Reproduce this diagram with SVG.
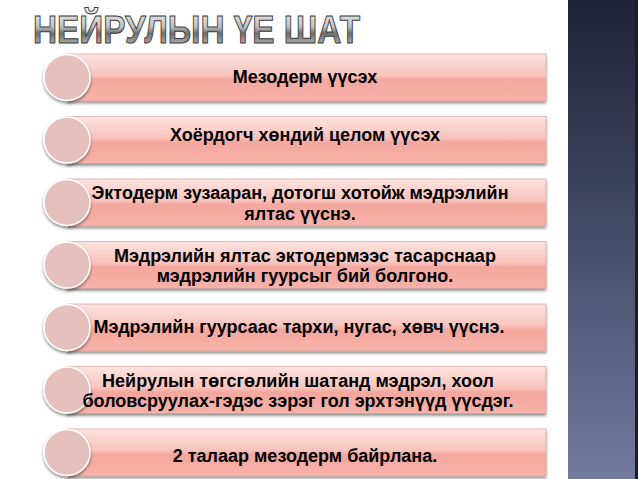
<svg xmlns="http://www.w3.org/2000/svg" width="638" height="479" viewBox="0 0 638 479">
<defs>
<linearGradient id="bar" x1="0" y1="0" x2="0" y2="1">
<stop offset="0" stop-color="#fde3df"/>
<stop offset="0.45" stop-color="#f9c4bd"/>
<stop offset="0.55" stop-color="#f4a79e"/>
<stop offset="1" stop-color="#f7b2aa"/>
</linearGradient>
<linearGradient id="panel" x1="0" y1="0" x2="0" y2="1">
<stop offset="0" stop-color="#1e2236"/>
<stop offset="0.5" stop-color="#474c68"/>
<stop offset="1" stop-color="#737a9f"/>
</linearGradient>
<linearGradient id="title" x1="0" y1="0" x2="0" y2="1">
<stop offset="0" stop-color="#f4f4f4"/>
<stop offset="0.45" stop-color="#c0c0c0"/>
<stop offset="0.6" stop-color="#6e6e6e"/>
<stop offset="1" stop-color="#d8d8d8"/>
</linearGradient>
<filter id="sh" x="-5%" y="-20%" width="110%" height="150%">
<feDropShadow dx="0" dy="2" stdDeviation="1.5" flood-color="#000" flood-opacity="0.45"/>
</filter>
</defs>
<style>
.bar{fill:url(#bar);stroke:#c99;stroke-width:0.6;filter:url(#sh)}
.dot{fill:#e6c0bc;stroke:#fff;stroke-width:1.5;filter:url(#sh)}
.t{font-family:"Liberation Sans",Arial,sans-serif;font-weight:bold;font-size:18px;fill:#000;text-anchor:middle}
</style>
<rect width="638" height="479" fill="#fff"/>
<rect x="568" y="0" width="67" height="479" fill="url(#panel)"/>
<rect x="635" y="0" width="3" height="479" fill="#1a1d2c"/>
<g id="title-g">
<text x="33" y="43" font-family="Liberation Sans,Arial,sans-serif" font-weight="bold" font-size="39" textLength="327" lengthAdjust="spacingAndGlyphs" fill="url(#title)" stroke="#3a3a3a" stroke-width="1">НЕЙРУЛЫН ҮЕ ШАТ</text>
</g>
<g id="n1"><rect class="bar" x="67" y="54" width="479" height="47"/><circle class="dot" cx="67" cy="77.5" r="23"/><text class="t" x="305" y="83">Мезодерм үүсэх</text></g>
<g id="n2"><rect class="bar" x="67" y="116.5" width="479" height="47"/><circle class="dot" cx="67" cy="140" r="23"/><text class="t" x="305" y="141">Хоёрдогч хөндий целом үүсэх</text></g>
<g id="n3"><rect class="bar" x="67" y="179" width="479" height="47"/><circle class="dot" cx="67" cy="202.5" r="23"/><text class="t" x="300" y="199">Эктодерм зузааран, дотогш хотойж мэдрэлийн</text><text class="t" x="300" y="220">ялтас үүснэ.</text></g>
<g id="n4"><rect class="bar" x="67" y="241.5" width="479" height="47"/><circle class="dot" cx="67" cy="265" r="23"/><text class="t" x="305" y="262">Мэдрэлийн ялтас эктодермээс тасарснаар</text><text class="t" x="305" y="282">мэдрэлийн гуурсыг бий болгоно.</text></g>
<g id="n5"><rect class="bar" x="67" y="304" width="479" height="47"/><circle class="dot" cx="67" cy="327.5" r="23"/><text class="t" x="299" y="333">Мэдрэлийн гуурсаас тархи, нугас, хөвч үүснэ.</text></g>
<g id="n6"><rect class="bar" x="67" y="366.5" width="479" height="47"/><circle class="dot" cx="67" cy="390" r="23"/><text class="t" x="298" y="387">Нейрулын төгсгөлийн шатанд мэдрэл, хоол</text><text class="t" x="298" y="407">боловсруулах-гэдэс зэрэг гол эрхтэнүүд үүсдэг.</text></g>
<g id="n7"><rect class="bar" x="67" y="429" width="479" height="47"/><circle class="dot" cx="67" cy="452.5" r="23"/><text class="t" x="305" y="462">2 талаар мезодерм байрлана.</text></g>
<g id="connectors"/>
</svg>
